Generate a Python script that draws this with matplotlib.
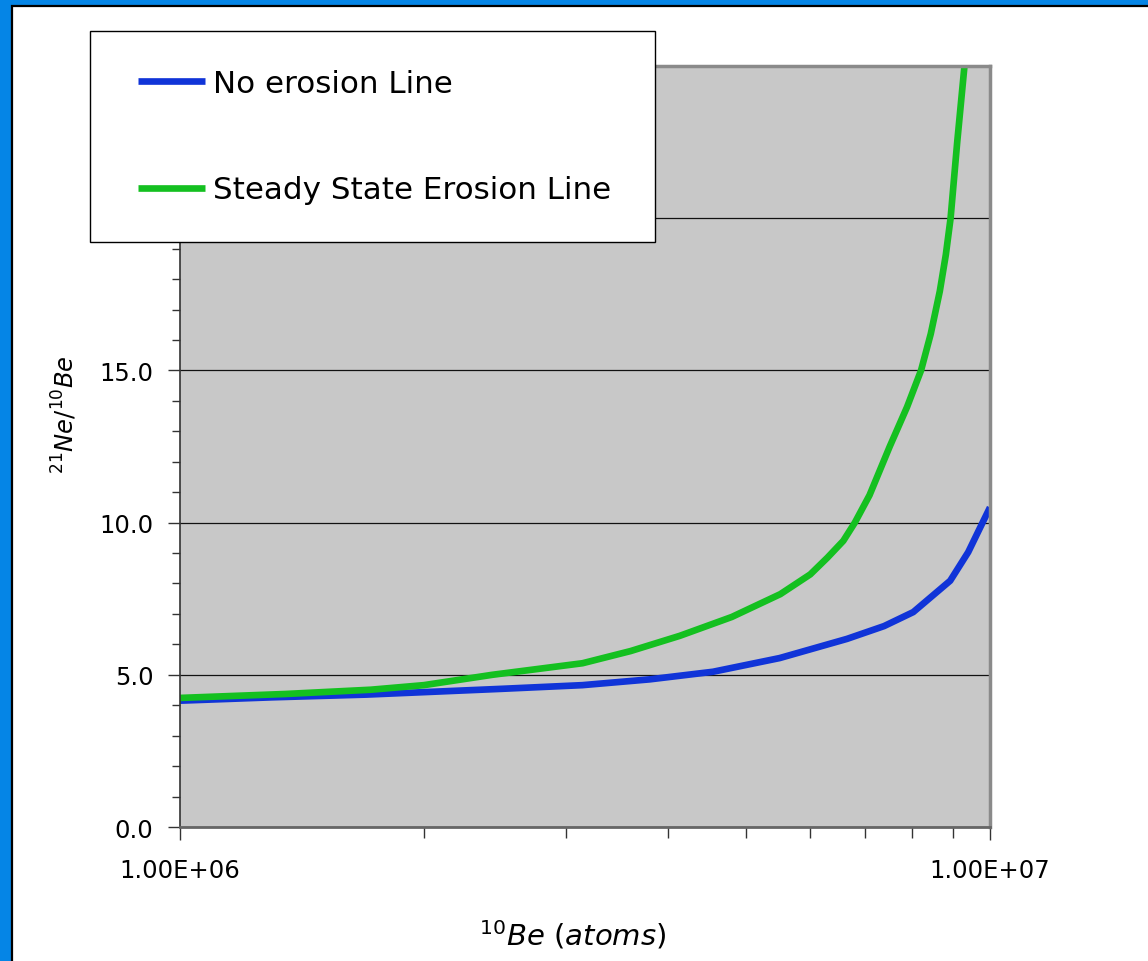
import numpy as np
import matplotlib
matplotlib.use('Agg')
import matplotlib.pyplot as plt
from matplotlib.patches import Rectangle
from matplotlib.ticker import LogLocator, FixedLocator, MultipleLocator, NullFormatter, FuncFormatter

plt.rcParams['font.family'] = ['DejaVu Sans']
plt.rcParams['mathtext.fontset'] = 'dejavusans'

# 10Be concentration (atoms) and 21Ne/10Be ratio
be_no_erosion = [1.0e6, 1.3e6, 1.7e6, 2.0e6, 2.5e6, 3.14e6, 3.8e6, 4.55e6,
                 5.5e6, 6.66e6, 7.4e6, 8.04e6, 8.93e6, 9.4e6, 9.75e6, 1.0e7]
ratio_no_erosion = [4.15, 4.26, 4.35, 4.43, 4.54, 4.66, 4.85, 5.10,
                    5.55, 6.18, 6.6, 7.06, 8.09, 9.03, 9.9, 10.5]

be_steady = [1.0e6, 1.35e6, 1.72e6, 2.0e6, 2.43e6, 3.14e6, 3.6e6, 4.14e6,
             4.8e6, 5.51e6, 6.0e6, 6.3e6, 6.59e6, 6.81e6, 7.1e6, 7.52e6,
             7.9e6, 8.22e6, 8.45e6, 8.67e6, 8.82e6, 8.94e6, 9.11e6, 9.30e6]
ratio_steady = [4.24, 4.37, 4.51, 4.66, 5.0, 5.38, 5.78, 6.28,
                6.9, 7.65, 8.3, 8.85, 9.4, 10.0, 10.9, 12.5,
                13.8, 15.0, 16.2, 17.6, 18.8, 20.0, 22.5, 25.0]

labels = ['No erosion Line', 'Steady State Erosion Line']

W, H = 1148, 962
fig = plt.figure(figsize=(W / 100, H / 100), dpi=100)
fig.patch.set_facecolor('#0585E6')
# white page with black edge, blue band left and top
fig.patches.append(Rectangle((12 / W, -0.05), 1.2, 1 - 6.5 / H + 0.05,
                             transform=fig.transFigure, facecolor='white',
                             edgecolor='black', lw=1.6, zorder=-1))

ax = fig.add_axes([180 / W, 1 - 828 / H, 810 / W, 761 / H])
ax.set_facecolor('#c8c8c8')

l1, = ax.plot(be_no_erosion, ratio_no_erosion, color='#1034d8', lw=4.8,
              solid_capstyle='butt', solid_joinstyle='round')
l2, = ax.plot(be_steady, ratio_steady, color='#14c020', lw=4.8,
              solid_capstyle='butt', solid_joinstyle='round')

ax.set_xscale('log')
ax.set_xlim(1e6, 1e7)
ax.set_ylim(0, 25)

ax.xaxis.set_major_locator(FixedLocator([1e6, 1e7]))
ax.xaxis.set_minor_locator(LogLocator(subs=np.arange(2, 10)))
ax.xaxis.set_minor_formatter(NullFormatter())
ax.xaxis.set_major_formatter(FuncFormatter(lambda v, p: f'{v:.2E}'))
ax.yaxis.set_major_locator(MultipleLocator(5))
ax.yaxis.set_minor_locator(MultipleLocator(1))
ax.yaxis.set_major_formatter(FuncFormatter(lambda v, p: f'{v:.1f}'))

ax.tick_params(axis='both', which='both', direction='out', colors='#333333')
ax.tick_params(axis='both', which='major', length=9, width=1, labelsize=17.5,
               labelcolor='black')
ax.tick_params(axis='both', which='minor', length=6, width=1)
ax.tick_params(axis='y', which='major', pad=10)
ax.tick_params(axis='x', which='major', pad=13)
ax.tick_params(axis='x', which='minor', length=8)

ax.yaxis.grid(True, which='major', color='#111111', lw=0.9)
ax.set_axisbelow(True)

ax.spines['left'].set_color('#333333')
ax.spines['left'].set_linewidth(1.2)
ax.spines['bottom'].set_color('#666666')
ax.spines['bottom'].set_linewidth(2)
for s in ['top', 'right']:
    ax.spines[s].set_color('#8a8a8a')
    ax.spines[s].set_linewidth(2.5)

ax.set_xlabel(r'$\mathit{^{10}Be\ (atoms)}$', fontsize=21, va='center')
ax.xaxis.set_label_coords(0.485, -0.141)
ax.set_ylabel(r'$\mathit{^{21}Ne/^{10}Be}$', fontsize=17.5, va='center')
ax.yaxis.set_label_coords(-0.142, 0.543)

# legend box
fig.patches.append(Rectangle((90 / W, 1 - 243 / H), 565 / W, 211 / H,
                             transform=fig.transFigure, facecolor='white',
                             edgecolor='black', lw=1, zorder=3))
fig.legend([l1, l2], labels, loc='upper left',
           bbox_to_anchor=(138 / W, 1 - 70 / H), frameon=False,
           borderpad=0, borderaxespad=0, fontsize=22.3,
           handlelength=2.15, handletextpad=0.28, labelspacing=2.5)

fig.savefig('out.png', dpi=100)
